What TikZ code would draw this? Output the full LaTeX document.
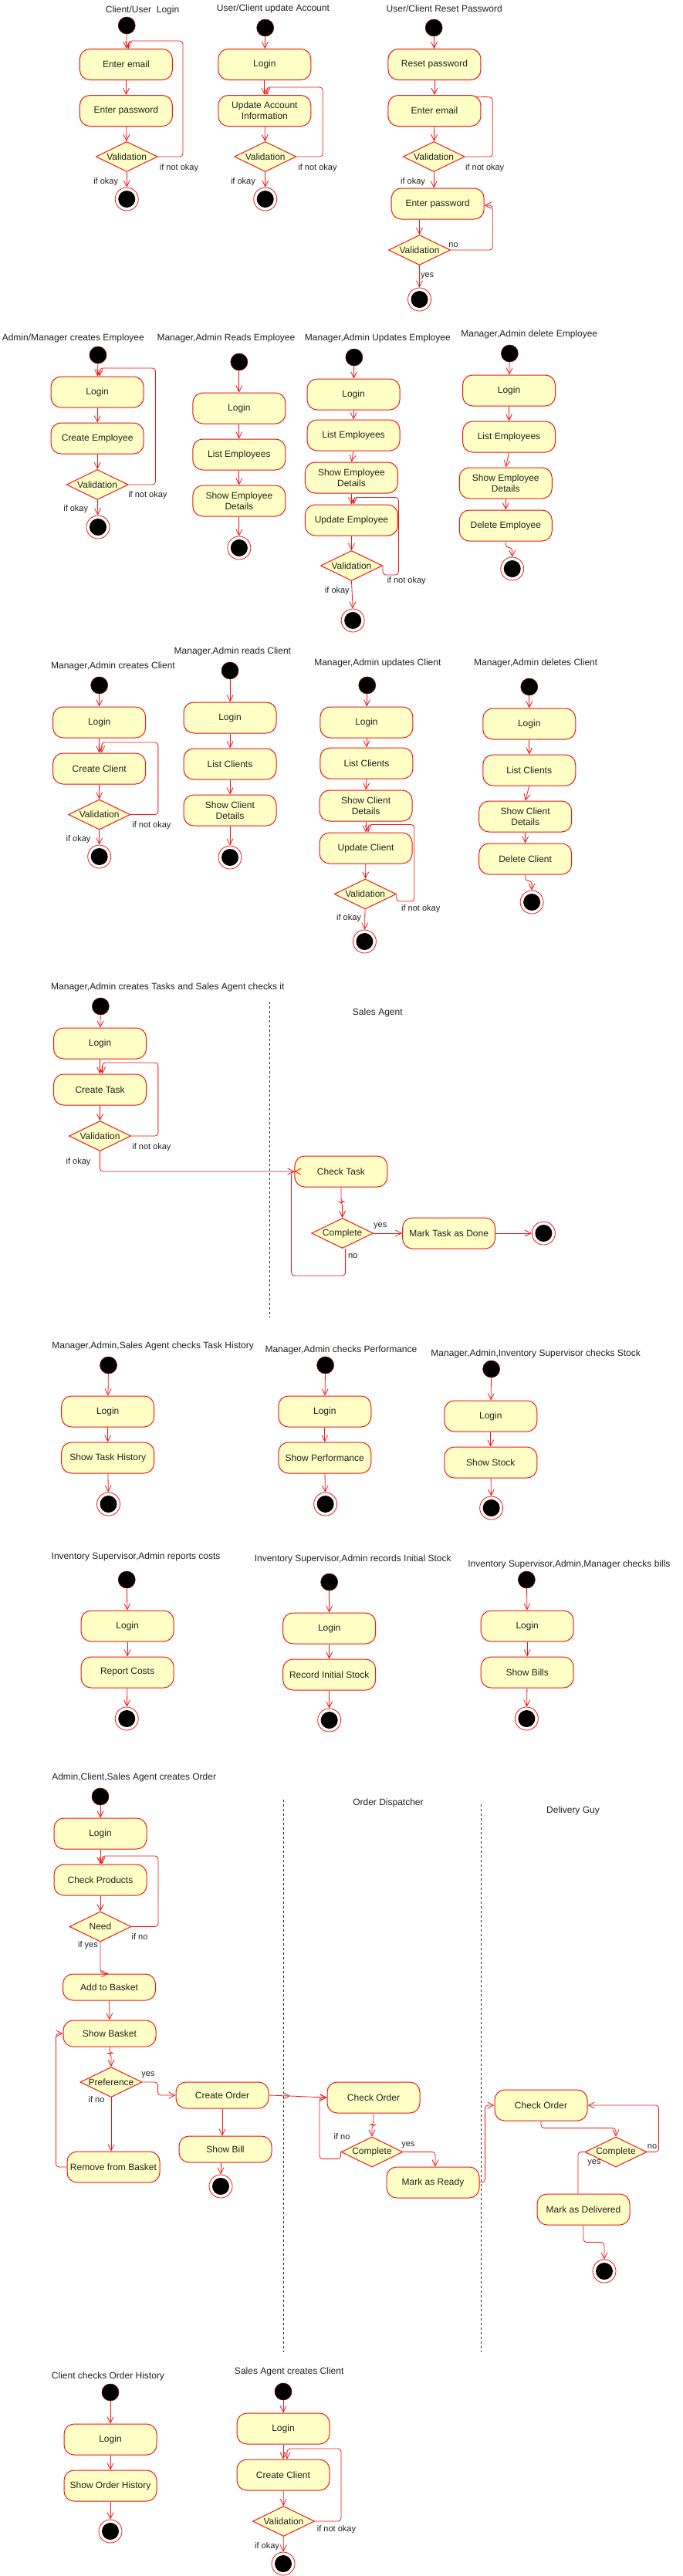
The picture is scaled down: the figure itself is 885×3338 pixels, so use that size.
\documentclass[tikz,border=0pt]{standalone}
\usepackage{fontspec}
\setmainfont{Liberation Sans}
\usetikzlibrary{shapes.geometric,arrows.meta,calc}
\definecolor{umlred}{HTML}{F01414}
\definecolor{nodefill}{HTML}{FFFFC6}
\definecolor{txt}{HTML}{222222}
\tikzset{
 nodebase/.style={draw=umlred, fill=nodefill, text=txt, line width=1pt, align=center, inner sep=1pt},
 act/.style={nodebase, rectangle, rounded corners=13pt, minimum width=120pt, minimum height=40pt, font=\fontsize{12}{14}\selectfont},
 actlow/.style={act, minimum height=34pt},
 dec/.style={nodebase, diamond, aspect=2, inner sep=0pt, minimum width=80pt, minimum height=39pt, font=\fontsize{12}{14}\selectfont},
 startw/.style={circle, fill=black, draw=umlred!50!black, line width=0.6pt, minimum size=22pt, inner sep=0pt},
 endw/.style={circle, draw=umlred, fill=white, line width=0.8pt, minimum size=30pt, inner sep=0pt, path picture={\fill[black] (path picture bounding box.center) circle [radius=11pt];}},
 arr/.style={draw=umlred, line width=0.8pt, -{Straight Barb[length=8pt,width=8pt]}, rounded corners=4pt},
 cline/.style={draw=umlred, line width=0.8pt, rounded corners=4pt},
 ttlw/.style={font=\fontsize{12}{14}\selectfont, text=txt, inner sep=0pt},
 lblw/.style={font=\fontsize{11}{13}\selectfont, text=txt, inner sep=0pt},
 lane/.style={draw=black!85, dashed, line width=0.6pt}
}
\begin{document}
\begin{tikzpicture}[x=1pt,y=-1pt]
\path[fill=white] (0,0) rectangle (885,3338);
\useasboundingbox (0,0) rectangle (885,3338);

\begin{scope}[x=1.6932pt]
% ---------- Section 1: Client/User Login
\node[ttlw] at (109,13) {Client/User\ \ Login};
\node[startw] (s1) at (97,33) {};
\node[act] (a11) at (96.5,83.5) {Enter email};
\node[act] (a12) at (96.5,143.5) {Enter password};
\node[dec] (d1) at (97,203) {Validation};
\node[endw] (e1) at (97,258) {};
\draw[arr] (s1) -- (a11);
\draw[arr] (a11) -- (a12);
\draw[arr] (a12) -- (d1);
\draw[arr] (d1) -- (e1);
\draw[arr] (d1.east) -| (140,53) -| ([xshift=3pt]a11.north);
\node[lblw] at (81,236) {if okay};
\node[lblw] at (137,218) {if not okay};

% ---------- Section 2: User/Client update Account
\node[ttlw] at (209,11) {User/Client update Account};
\node[startw] (s2) at (203,36) {};
\node[act] (a21) at (202.5,83.5) {Login};
\node[act] (a22) at (202.5,143.5) {Update Account\\Information};
\node[dec] (d2) at (203,203) {Validation};
\node[endw] (e2) at (203,258) {};
\draw[arr] (s2) -- (a21);
\draw[arr] (a21) -- (a22);
\draw[arr] (a22) -- (d2);
\draw[arr] (d2) -- (e2);
\draw[arr] (d2.east) -| (247,113) -| ([xshift=3pt]a22.north);
\node[lblw] at (186,236) {if okay};
\node[lblw] at (243,218) {if not okay};

% ---------- Section 3: User/Client Reset Password
\node[ttlw] at (340,11) {User/Client Reset Password};
\node[startw] (s3) at (332,36) {};
\node[act] (a31) at (332.5,83.5) {Reset password};
\node[act] (a32) at (332.5,143.5) {Enter email};
\node[dec] (d3) at (332,203) {Validation};
\node[act] (a33) at (335,264) {Enter password};
\node[dec] (d4) at (321,324) {Validation};
\node[endw] (e3) at (321,388) {};
\draw[arr] (s3) -- (a31);
\draw[arr] (a31) -- (a32);
\draw[arr] (a32) -- (d3);
\draw[arr] (d3.south) -- (d3.south |- a33.north);
\draw[cline] (d3.east) -| (377,126) -- ([xshift=-6pt,yshift=-2pt]a32.north east);
\draw[arr] (d4.north |- a33.south) -- (d4.north);
\draw[arr] (d4.east) -| (377,266) -- ([yshift=-2pt]a33.east);
\draw[arr] (d4) -- (e3);
\node[lblw] at (371,218) {if not okay};
\node[lblw] at (316,236) {if okay};
\node[lblw] at (347,318) {no};
\node[lblw] at (327,358) {yes};

% ---------- Section 4: Admin/Manager creates Employee
\node[ttlw] at (56,438) {Admin/Manager creates Employee};
\node[startw] (s4) at (75,460) {};
\node[act] (a41) at (74.5,508) {Login};
\node[act] (a42) at (74.5,568) {Create Employee};
\node[dec] (d5) at (74.5,628) {Validation};
\node[endw] (e4) at (75,683) {};
\draw[arr] (s4) -- (a41);
\draw[arr] (a41) -- (a42);
\draw[arr] (a42) -- (d5);
\draw[arr] (d5) -- (e4);
\draw[arr] (d5.east) -| (119,477) -| ([xshift=3pt]a41.north);
\node[lblw] at (113,642) {if not okay};
\node[lblw] at (58,660) {if okay};

% ---------- Section 5: Manager,Admin Reads Employee
\node[ttlw] at (173,438) {Manager,Admin Reads Employee};
\node[startw] (s5) at (183,469) {};
\node[act] (a51) at (183,529) {Login};
\node[act] (a52) at (183,589) {List Employees};
\node[act] (a53) at (183,649) {Show Employee\\Details};
\node[endw] (e5) at (183,710) {};
\draw[arr] (s5) -- (a51);
\draw[arr] (a51) -- (a52);
\draw[arr] (a52) -- (a53);
\draw[arr] (a53) -- (e5);

% ---------- Section 6: Manager,Admin Updates Employee
\node[ttlw] at (289,438) {Manager,Admin Updates Employee};
\node[startw] (s6) at (271,463) {};
\node[act] (a61) at (270.5,511) {Login};
\node[act] (a62) at (270.5,564) {List Employees};
\node[act] (a63) at (269,619) {Show Employee\\Details};
\node[act] (a64) at (269,674) {Update Employee};
\node[dec] (d6) at (269,733) {Validation};
\node[endw] (e6) at (270,804) {};
\draw[arr] (s6) -- (a61);
\draw[arr] (a61) -- (a62);
\draw[arr] (a62.south) -- (a63.north);
\draw[arr] (a63) -- (a64);
\draw[arr] (a64) -- (d6);
\draw[arr] (d6.south) -- (e6.north);
\draw[arr] (d6.east) |- (305,745) |- ([xshift=3pt,yshift=9pt]a64.north) -- ([xshift=3pt]a64.north);
\node[lblw] at (311,753) {if not okay};
\node[lblw] at (258,766) {if okay};

% ---------- Section 7: Manager,Admin delete Employee
\node[ttlw] at (405,433) {Manager,Admin delete Employee};
\node[startw] (s7) at (390,458) {};
\node[act] (a71) at (389.5,506) {Login};
\node[act] (a72) at (389.5,566) {List Employees};
\node[act] (a73) at (387,626) {Show Employee\\Details};
\node[act] (a74) at (387,681) {Delete Employee};
\node[endw] (e7) at (392,737) {};
\draw[arr] (s7) -- (a71);
\draw[arr] (a71) -- (a72);
\draw[arr] (a72.south) -- (a73.north);
\draw[arr] (a73) -- (a74);
\draw[arr] (a74.south) -- ++(0,8) -| (e7.north);

% ---------- Section 8: Manager,Admin creates Client
\node[ttlw] at (86.5,863) {Manager,Admin creates Client};
\node[startw] (s8) at (76,888) {};
\node[act] (a81) at (76,936) {Login};
\node[act] (a82) at (76,996) {Create Client};
\node[dec] (d8) at (76,1055.5) {Validation};
\node[endw] (e8) at (76,1110) {};
\draw[arr] (s8) -- (a81);
\draw[arr] (a81) -- (a82);
\draw[arr] (a82) -- (d8);
\draw[arr] (d8) -- (e8);
\draw[arr] (d8.east) -| (121,962) -| ([xshift=3pt]a82.north);
\node[lblw] at (116,1070) {if not okay};
\node[lblw] at (60,1088) {if okay};

% ---------- Section 9: Manager,Admin reads Client
\node[ttlw] at (178,844) {Manager,Admin reads Client};
\node[startw] (s9) at (176,869) {};
\node[act] (a91) at (176,930) {Login};
\node[act] (a92) at (176,990) {List Clients};
\node[act] (a93) at (176,1050) {Show Client\\Details};
\node[endw] (e9) at (176,1111) {};
\draw[arr] (s9) -- (a91);
\draw[arr] (a91) -- (a92);
\draw[arr] (a92) -- (a93);
\draw[arr] (a93) -- (e9);

% ---------- Section 10: Manager,Admin updates Client
\node[ttlw] at (289,859) {Manager,Admin updates Client};
\node[startw] (s10) at (281,888) {};
\node[act] (b1) at (280.5,936) {Login};
\node[act] (b2) at (280.5,989) {List Clients};
\node[act] (b3) at (280,1044) {Show Client\\Details};
\node[act] (b4) at (280,1099) {Update Client};
\node[dec] (d10) at (279.5,1158.5) {Validation};
\node[endw] (e10) at (279,1220) {};
\draw[arr] (s10) -- (b1);
\draw[arr] (b1) -- (b2);
\draw[arr] (b2.south) -- (b3.north);
\draw[arr] (b3) -- (b4);
\draw[arr] (b4) -- (d10);
\draw[arr] (d10) -- (e10);
\draw[arr] (d10.east) |- (317,1168) |- ([xshift=3pt,yshift=10pt]b4.north) -- ([xshift=3pt]b4.north);
\node[lblw] at (322,1178) {if not okay};
\node[lblw] at (267,1190) {if okay};

% ---------- Section 11: Manager,Admin deletes Client
\node[ttlw] at (410,859) {Manager,Admin deletes Client};
\node[startw] (s11) at (405,890) {};
\node[act] (c1) at (405,938) {Login};
\node[act] (c2) at (405,998) {List Clients};
\node[act] (c3) at (402,1058) {Show Client\\Details};
\node[act] (c4) at (402,1113) {Delete Client};
\node[endw] (e11) at (407,1169) {};
\draw[arr] (s11) -- (c1);
\draw[arr] (c1) -- (c2);
\draw[arr] (c2.south) -- (c3.north);
\draw[arr] (c3) -- (c4);
\draw[arr] (c4.south) -- ++(0,8) -| (e11.north);

% ---------- Section 12: Tasks
\node[ttlw, anchor=west] at (39,1279) {Manager,Admin creates Tasks and Sales Agent checks it};
\draw[lane] (206,1298) -- (206,1708);
\node[ttlw] at (289,1312) {Sales Agent};
\node[startw] (s12) at (77,1304) {};
\node[act] (f1) at (76.5,1352) {Login};
\node[act] (f2) at (76.5,1412) {Create Task};
\node[dec] (d12) at (76.5,1472) {Validation};
\node[act] (f3) at (261,1518) {Check Task};
\node[dec] (d13) at (262,1598) {Complete};
\node[act] (f4) at (343.5,1598) {Mark Task as Done};
\node[endw] (e12) at (416,1598) {};
\draw[arr] (s12) -- (f1);
\draw[arr] (f1) -- (f2);
\draw[arr] (f2) -- (d12);
\draw[arr] (d12.east) -| (121,1377) -| ([xshift=3pt]f2.north);
\draw[arr] (d12.south) |- (f3.west);
\draw[arr] (f3.south) -- ++(0,19) -| (d13.north);
\draw[arr] (d13.east) -- (f4.west);
\draw[arr] (f4.east) -- (e12.west);
\draw[arr] ([xshift=4pt]d13.south) |- (223,1653) |- (f3.west);
\node[lblw] at (116,1487) {if not okay};
\node[lblw] at (60,1506) {if okay};
\node[lblw] at (291,1589) {yes};
\node[lblw] at (270,1628) {no};

% ---------- Section 13
\node[ttlw] at (117,1744) {Manager,Admin,Sales Agent checks Task History};
\node[startw] (s13) at (83,1769) {};
\node[act] (g1) at (82.5,1829) {Login};
\node[act] (g2) at (82.5,1889) {Show Task History};
\node[endw] (e13) at (83,1949) {};
\draw[arr] (s13) -- (g1);
\draw[arr] (g1) -- (g2);
\draw[arr] (g2) -- (e13);

\node[ttlw] at (261,1749) {Manager,Admin checks Performance};
\node[startw] (s14) at (249,1769) {};
\node[act] (g3) at (248.5,1829) {Login};
\node[act] (g4) at (248.5,1889) {Show Performance};
\node[endw] (e14) at (249,1949) {};
\draw[arr] (s14) -- (g3);
\draw[arr] (g3) -- (g4);
\draw[arr] (g4) -- (e14);

\node[ttlw] at (410,1754) {Manager,Admin,Inventory Supervisor checks Stock};
\node[startw] (s15) at (376,1774) {};
\node[act] (g5) at (375.5,1835) {Login};
\node[act] (g6) at (375.5,1895) {Show Stock};
\node[endw] (e15) at (376,1954) {};
\draw[arr] (s15) -- (g5);
\draw[arr] (g5) -- (g6);
\draw[arr] (g6) -- (e15);

% ---------- Section 14
\node[ttlw] at (104,2017) {Inventory Supervisor,Admin reports costs};
\node[startw] (s16) at (97,2047) {};
\node[act] (h1) at (97.5,2107) {Login};
\node[act] (h2) at (97.5,2167) {Report Costs};
\node[endw] (e16) at (97,2227) {};
\draw[arr] (s16) -- (h1);
\draw[arr] (h1) -- (h2);
\draw[arr] (h2) -- (e16);

\node[ttlw] at (270,2020) {Inventory Supervisor,Admin records Initial Stock};
\node[startw] (s17) at (252,2050) {};
\node[act] (h3) at (252,2110) {Login};
\node[act] (h4) at (252,2170) {Record Initial Stock};
\node[endw] (e17) at (252,2229) {};
\draw[arr] (s17) -- (h3);
\draw[arr] (h3) -- (h4);
\draw[arr] (h4) -- (e17);

\node[ttlw] at (435.5,2027) {Inventory Supervisor,Admin,Manager checks bills};
\node[startw] (s18) at (403,2047) {};
\node[act] (h5) at (403.5,2107) {Login};
\node[act] (h6) at (403.5,2167) {Show Bills};
\node[endw] (e18) at (403,2227) {};
\draw[arr] (s18) -- (h5);
\draw[arr] (h5) -- (h6);
\draw[arr] (h6) -- (e18);
\end{scope}

% ---------- Order section
\node[ttlw] at (173.7,2303) {Admin,Client,Sales Agent creates Order};
\draw[lane] (367,2332) -- (367,3048);
\draw[lane] (623,2338) -- (623,3048);
\node[ttlw] at (503,2336) {Order Dispatcher};
\node[ttlw] at (742.5,2346) {Delivery Guy};

\node[startw] (o0) at (130,2328) {};
\node[act] (o1) at (130,2376) {Login};
\node[act] (o2) at (130,2436) {Check Products};
\node[dec] (o3) at (130,2496.5) {Need};
\node[actlow] (o4) at (141.5,2575) {Add to Basket};
\node[actlow] (o5) at (142,2635) {Show Basket};
\node[dec] (o6) at (144,2698) {Preference};
\node[actlow] (o7) at (288,2715) {Create Order};
\node[actlow] (o8) at (292,2785) {Show Bill};
\node[endw] (o9) at (286,2833) {};
\node[act] (o10) at (147,2808) {Remove from Basket};
\draw[arr] (o0) -- (o1);
\draw[arr] (o1) -- (o2);
\draw[arr] (o2) -- (o3);
\draw[arr] (o3.east) -| (205,2405) -| ([xshift=2pt]o2.north);
\draw[arr, rounded corners=6pt] (o3.south) |- ([xshift=-1pt]o4.north);
\draw[arr] (o4) -- (o5);
\draw[arr] (o5.south) -- ++(0,8) -| (o6.north);
\draw[arr] (o6.east) -| ([xshift=-23pt]o7.west) -- (o7.west);
\draw[arr] (o7.south) -- (o7.south |- o8.north);
\draw[arr] (o9.north |- o8.south) -- (o9.north);
\draw[arr] (o6.south) -- (o6.south |- o10.north);
\draw[arr] (o10.west) -| ([xshift=-9pt]o5.west) -- (o5.west);
\node[lblw] at (181,2510) {if no};
\node[lblw] at (114,2521) {if yes};
\node[lblw] at (192,2689) {yes};
\node[lblw] at (125,2721) {if no};

\node[act] (p1) at (484,2718) {Check Order};
\node[dec] (p2) at (482,2788.5) {Complete};
\node[act] (p3) at (561,2828) {Mark as Ready};
\coordinate (om) at (376,2716);
\draw[arr] (o7.east) -- (om);
\draw[arr] (om) -- (p1.west);
\draw[arr] (p1.south) -- ++(0,15) -| (p2.north);
\draw[arr] (p2.west) |- (414,2797.5) |- (p1.west);
\draw[arr] (p2.east) -| ([xshift=3pt]p3.north);
\node[lblw] at (443,2769) {if no};
\node[lblw] at (529,2780) {yes};

\node[act] (q1) at (701,2728) {Check Order};
\node[dec] (q2) at (798,2788.5) {Complete};
\node[act] (q3) at (756,2863) {Mark as Delivered};
\node[endw] (q4) at (783,2943) {};
\draw[arr] (p3.east) -| ([xshift=-12pt]q1.west) -- (q1.west);
\draw[arr] (q1.south) -- ++(0,9) -| (q2.north);
\draw[arr] (q2.east) -| ([xshift=92pt]q1.east) -- (q1.east);
\draw[cline] (q2.west) -| ([xshift=-7pt]q3.north);
\draw[arr] (q3.south) -- ++(0,22) -| (q4.north);
\node[lblw] at (845,2782) {no};
\node[lblw] at (770,2803) {yes};

% ---------- Bottom: Client checks Order History
\node[ttlw] at (140,3079) {Client checks Order History};
\node[startw] (r0) at (143,3100) {};
\node[act] (r1) at (143,3161) {Login};
\node[act] (r2) at (143,3221) {Show Order History};
\node[endw] (r3) at (143,3280) {};
\draw[arr] (r0) -- (r1);
\draw[arr] (r1) -- (r2);
\draw[arr] (r2) -- (r3);

% ---------- Bottom: Sales Agent creates Client
\node[ttlw] at (374.7,3073) {Sales Agent creates Client};
\node[startw] (u0) at (367,3099) {};
\node[act] (u1) at (367,3147) {Login};
\node[act] (u2) at (367,3207) {Create Client};
\node[dec] (u3) at (367.5,3267) {Validation};
\node[endw] (u4) at (367,3322) {};
\draw[arr] (u0) -- (u1);
\draw[arr] (u1) -- (u2);
\draw[arr] (u2) -- (u3);
\draw[arr] (u3) -- (u4);
\draw[arr] (u3.east) -| (442,3173) -| ([xshift=5pt]u2.north);
\node[lblw] at (436,3278) {if not okay};
\node[lblw] at (346,3300) {if okay};
\end{tikzpicture}
\end{document}
